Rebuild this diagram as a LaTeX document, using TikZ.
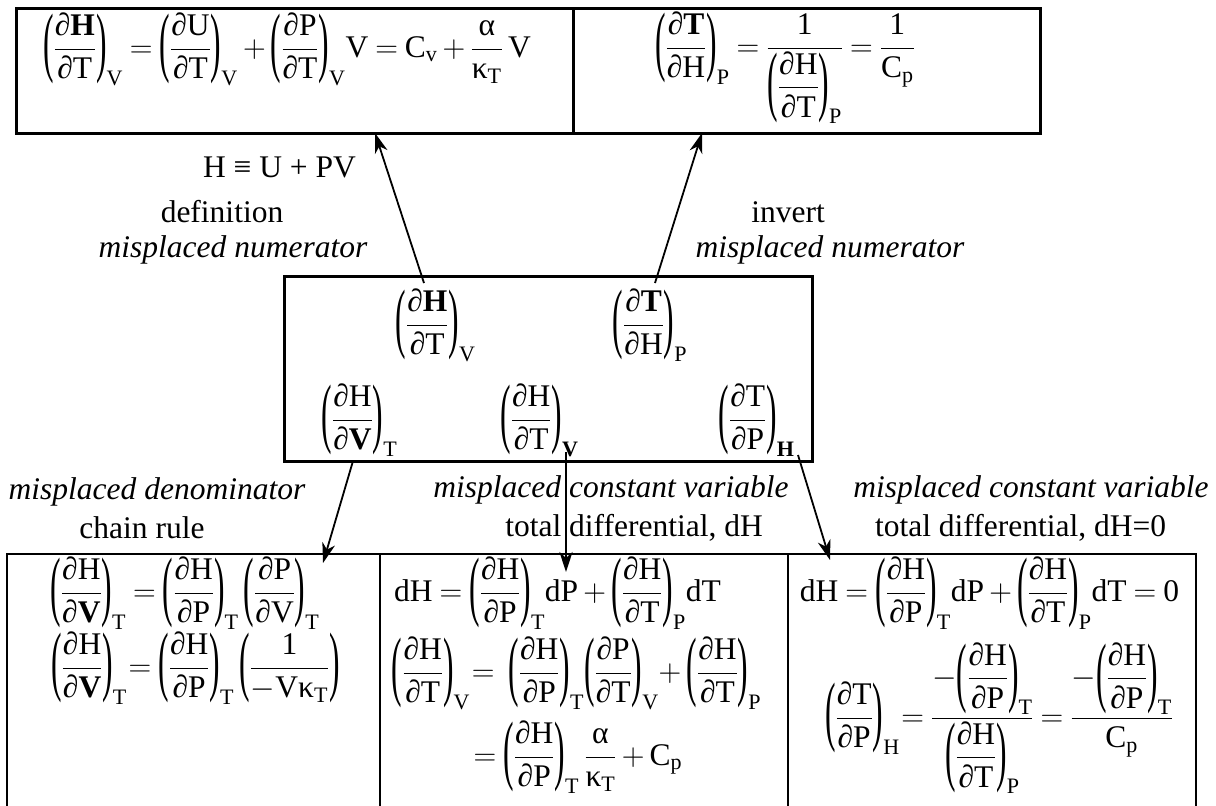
\RequirePackage{fix-cm}
\documentclass[tikz,border=0pt]{standalone}
\usepackage{amsmath}
\usepackage{graphicx}
\usepackage{fontspec}
\setmainfont{Liberation Serif}
\usetikzlibrary{arrows.meta,calc,fit}
\newcommand{\lpar}{\mathopen{\vcenter{\hbox{\scalebox{1}[2.45]{(}}}}}
\newcommand{\rpar}{\mathclose{\vcenter{\hbox{\scalebox{1}[2.45]{)}}}}}
\newcommand{\pd}[3]{\lpar\dfrac{\text{∂#1}}{\text{∂#2}}\rpar_{\text{#3}}}
\newcommand{\tx}[1]{\text{#1}}
\AtBeginDocument{\thickmuskip=4mu\relax\medmuskip=3mu\relax}
\begin{document}
\begin{tikzpicture}[x=1pt,y=-1pt,
  every node/.style={inner sep=0pt, font=\fontsize{31.5}{38}\selectfont},
  boxthick/.style={draw, line width=3pt, inner sep=0pt},
  boxthin/.style={draw, line width=2pt, inner sep=0pt},
  arr/.style={-{Stealth[length=20pt,width=13pt,inset=6pt]}, line width=1.8pt},
  fm/.style={anchor=base},
  lab/.style={anchor=center},
  lit/.style={anchor=center, font=\fontsize{31.5}{38}\selectfont\itshape}]
\useasboundingbox (0,0) rectangle (1216,806);
\clip (0,0) rectangle (1216,806);
% boxes
\node[boxthick, fit={(16,8) (573,133)}] (TL) {};
\node[boxthick, fit={(573,8) (1040,133)}] (TR) {};
\node[boxthick, fit={(284,276) (812,461)}] (MB) {};
\node[boxthin, fit={(7,554) (380,830)}] (BL) {};
\node[boxthin, fit={(380,554) (788,830)}] (BM) {};
\node[boxthin, fit={(788,554) (1196,830)}] (BR) {};
% top formulas
\node[fm] (TLf) at (287,57) {$\pd{\textbf{H}}{T}{V} = \pd{U}{T}{V} + \pd{P}{T}{V}\tx{V} = \tx{C}_{\tx{v}} + \dfrac{\tx{α}}{\tx{κ}_{\tx{T}}}\,\tx{V}$};
\node[fm] (TRf) at (785,56) {$\pd{\textbf{T}}{H}{P} = \dfrac{\tx{1}}{\pd{H}{T}{P}} = \dfrac{\tx{1}}{\tx{C}_{\tx{p}}}$};
% middle formulas
\node[fm] (n1) at (435.5,333) {$\pd{\textbf{H}}{T}{V}$};
\node[fm] (n2) at (650,333) {$\pd{\textbf{T}}{H}{P}$};
\node[fm] (n3) at (359.5,428) {$\pd{H}{\textbf{V}}{T}$};
\node[fm] (n4) at (539.5,428) {$\pd{H}{T}{\textbf{V}}$};
\node[fm] (n5) at (756.5,428) {$\pd{T}{P}{\textbf{H}}$};
% bottom left
\node[fm] (BL1) at (185,601) {$\pd{H}{\textbf{V}}{T} = \pd{H}{P}{T}\,\pd{P}{V}{T}$};
\node[fm] (BL2) at (195.5,676) {$\pd{H}{\textbf{V}}{T}\!= \pd{H}{P}{T}\,\lpar\dfrac{\tx{1}}{-\tx{Vκ}_{\tx{T}}}\rpar$};
% bottom middle
\node[fm] (BM1) at (557.5,601) {$\tx{dH} = \pd{H}{P}{T}\tx{dP} + \pd{H}{T}{P}\tx{dT}$};
\node[fm] (BM2) at (576.5,681) {$\pd{H}{T}{V}\!=\; \pd{H}{P}{T}\pd{P}{T}{V}\!+ \pd{H}{T}{P}$};
\node[fm] (BM3) at (578,765) {$= \pd{H}{P}{T}\,\dfrac{\tx{α}}{\tx{κ}_{\tx{T}}} + \tx{C}_{\tx{p}}$};
% bottom right
\node[fm] (BR1) at (989.5,601) {$\tx{dH} = \pd{H}{P}{T}\tx{dP} + \pd{H}{T}{P}\tx{dT} = \tx{0}$};
\node[fm] (BR2) at (999,726) {$\pd{T}{P}{H}\!= \dfrac{-\pd{H}{P}{T}}{\pd{H}{T}{P}} = \dfrac{-\pd{H}{P}{T}}{\tx{C}_{\tx{p}}}$};
% labels
\node[lab] (l1) at (279.5,167) {H ≡ U + PV};
\node[lab] (l2) at (222,212) {definition};
\node[lit] (l3) at (233,250) {misplaced numerator};
\node[lab] (l4) at (788,212) {invert};
\node[lit] (l5) at (830,250) {misplaced numerator};
\node[lit] (l6) at (157,492) {misplaced denominator};
\node[lab] (l7) at (142,528) {chain rule};
\node[lit] (l8) at (611,490) {misplaced constant variable};
\node[lab] (l9) at (634,528) {total differential, dH};
\node[lit] (l10) at (1031,490) {misplaced constant variable};
\node[lab] (l11) at (1020.5,528) {total differential, dH=0};
% connector end points
\coordinate (s1) at (424,283);
\coordinate (e1) at (375,133);
\coordinate (s2) at (655,283);
\coordinate (e2) at (702,133);
\coordinate (s3) at (353,461);
\coordinate (e3) at (323,563);
\coordinate (s4) at (566,452);
\coordinate (e4) at (566,572);
\coordinate (s5) at (798,455);
\coordinate (e5) at (830,560);
\draw[arr] (s1) -- (e1);
\draw[arr] (s2) -- (e2);
\draw[arr] (s3) -- (e3);
\draw[arr] (s4) -- (e4);
\draw[arr] (s5) -- (e5);
\end{tikzpicture}
\end{document}
